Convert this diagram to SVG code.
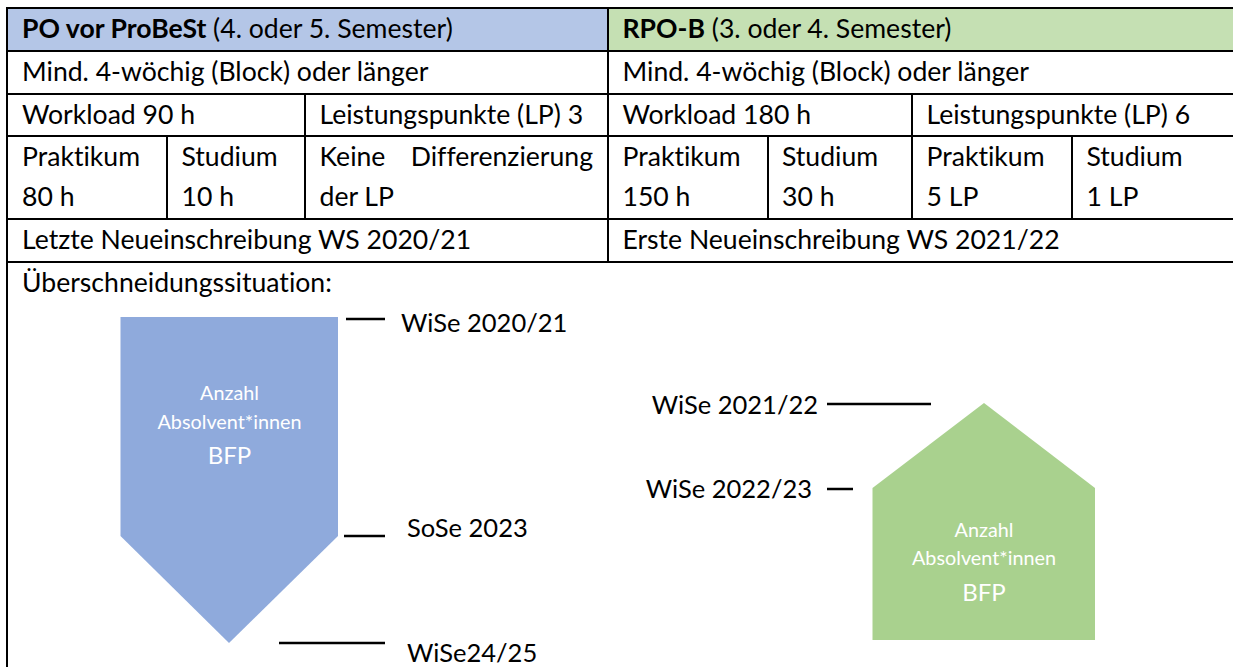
<svg xmlns="http://www.w3.org/2000/svg" width="1233" height="667" viewBox="0 0 1233 667">
<style>
text{font-variant-ligatures:none;font-feature-settings:"liga" 0,"clig" 0}
.t{font-family:Lato,"Liberation Sans",sans-serif;font-size:26.6px;fill:#000}
.lb{font-family:Lato,"Liberation Sans",sans-serif;font-size:25.5px;fill:#000}
.b{font-weight:bold}
.g{stroke:#000;stroke-width:2;fill:none}
.tick{stroke:#000;stroke-width:2.5}
.w{font-family:Lato,"Liberation Sans",sans-serif;fill:#fff;text-anchor:middle}
.s{font-size:19.8px}
.l{font-size:24px}
</style>
<rect width="1233" height="667" fill="#fff"/>
<g id="table">
<rect x="7" y="8" width="601" height="43" fill="#B4C6E7"/>
<rect x="608" y="8" width="625" height="43" fill="#C5E0B3"/>
<g class="g">
<path d="M7 8H1233M7 51H1233M7 94H1233M7 136H1233M7 219H1233M7 262H1233"/>
<path d="M7 7V667M608 8V262M305 94V219M167 136V219M768 136V219M912 94V219M1072 136V219"/>
</g>
<text class="t" x="22" y="38"><tspan class="b">PO vor ProBeSt</tspan> (4. oder 5. Semester)</text>
<text class="t" x="622.5" y="38"><tspan class="b">RPO-B</tspan> (3. oder 4. Semester)</text>
<text class="t" x="22" y="81">Mind. 4-wöchig (Block) oder länger</text>
<text class="t" x="622.5" y="81">Mind. 4-wöchig (Block) oder länger</text>
<text class="t" x="22" y="123.5">Workload 90 h</text>
<text class="t" x="319.5" y="123.5">Leistungspunkte (LP) 3</text>
<text class="t" x="622.5" y="123.5">Workload 180 h</text>
<text class="t" x="926.5" y="123.5">Leistungspunkte (LP) 6</text>
<text class="t" x="22" y="165.5">Praktikum</text>
<text class="t" x="22" y="205.5">80 h</text>
<text class="t" x="181.5" y="165.5">Studium</text>
<text class="t" x="181.5" y="205.5">10 h</text>
<text class="t" x="319.5" y="165.5">Keine</text>
<text class="t" x="593" y="165.5" text-anchor="end">Differenzierung</text>
<text class="t" x="319.5" y="205.5">der LP</text>
<text class="t" x="622.5" y="165.5">Praktikum</text>
<text class="t" x="622.5" y="205.5">150 h</text>
<text class="t" x="782" y="165.5">Studium</text>
<text class="t" x="782" y="205.5">30 h</text>
<text class="t" x="926.5" y="165.5">Praktikum</text>
<text class="t" x="926.5" y="205.5">5 LP</text>
<text class="t" x="1086.5" y="165.5">Studium</text>
<text class="t" x="1086.5" y="205.5">1 LP</text>
<text class="t" x="22" y="248.5">Letzte Neueinschreibung WS 2020/21</text>
<text class="t" x="622.5" y="248.5">Erste Neueinschreibung WS 2021/22</text>
<text class="t" x="22" y="291.5">Überschneidungssituation:</text>
</g>
<g id="blue-arrow">
<polygon points="120.5,317 338,317 338,536 229,643 120.5,536" fill="#8FAADC"/>
<text class="w s" x="229.5" y="400">Anzahl</text>
<text class="w s" x="229.5" y="429">Absolvent*innen</text>
<text class="w l" x="229.5" y="464">BFP</text>
</g>
<g id="green-house">
<polygon points="872.5,488 984,403 1095,488 1095,640 872.5,640" fill="#A9D18E"/>
<text class="w s" x="984" y="537">Anzahl</text>
<text class="w s" x="984" y="565">Absolvent*innen</text>
<text class="w l" x="984" y="601">BFP</text>
</g>
<g id="connectors">
<path class="tick" d="M346 319H385M344 536H385M279 643H385M827 404H931M827 489H853"/>
</g>
<g id="labels">
<text class="lb" x="401" y="332">WiSe 2020/21</text>
<text class="lb" x="407" y="537">SoSe 2023</text>
<text class="lb" x="407" y="662">WiSe24/25</text>
<text class="lb" x="818" y="414" text-anchor="end">WiSe 2021/22</text>
<text class="lb" x="812" y="498" text-anchor="end">WiSe 2022/23</text>
</g>
</svg>
